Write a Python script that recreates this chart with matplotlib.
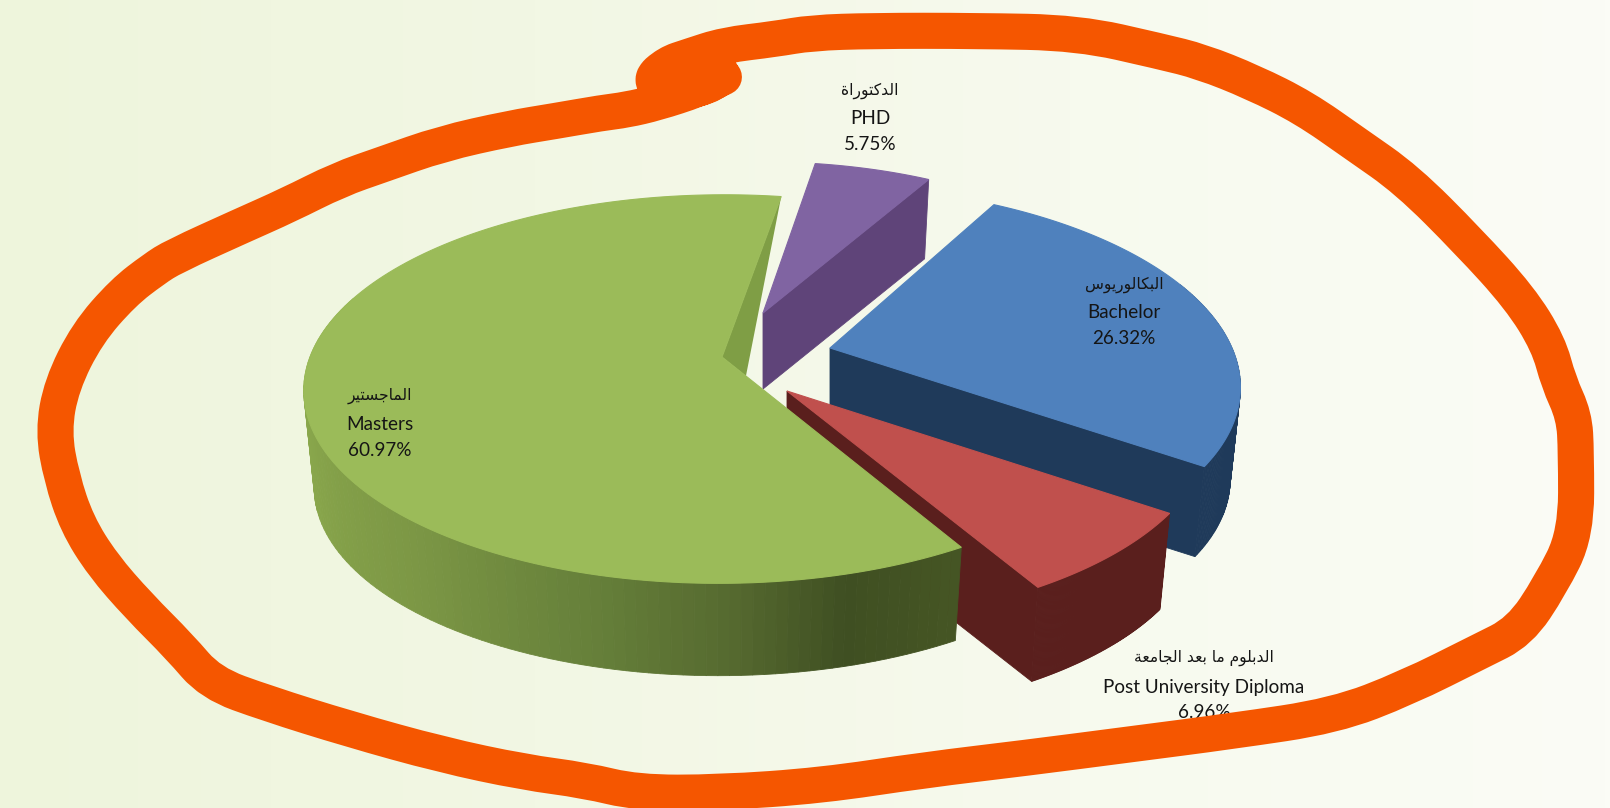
import numpy as np
import matplotlib
matplotlib.use('Agg')
import matplotlib.pyplot as plt
from matplotlib.path import Path
from matplotlib.patches import PathPatch, Polygon
from matplotlib.colors import LinearSegmentedColormap, to_rgb

# data, in pie order (counter clockwise from the notch)
names_en = ['Masters', 'Post University Diploma', 'Bachelor', 'PHD']
names_ar = ['الماجستير', 'الدبلوم ما بعد الجامعة', 'البكالوريوس', 'الدكتوراة']
percent = [60.97, 6.96, 26.32, 5.75]

top_colors = ['#9BBB59', '#C0504D', '#4F81BD', '#8064A2']
wall_colors = ['#6F8A3C', '#5A1F1D', '#1F3A5A', '#5F4479']

# layout in reference pixels
start_angle = 80.8
apex_x = [722, 787, 830, 763]
apex_y = [357, 391, 348, 313]
radius_x = [412, 418, 402, 380]
radius_y = [189, 195, 189, 176]
shear = [-3, 5, 15, 0]
depth = [98, 99, 93, 76]
label_x = [380, 1204, 1124, 870]
label_y = [(396, 424, 450), (658, 687, 713), (285, 312, 339), (91, 118, 145)]

# hand drawn ring at 1568 wide
ring_x = [705, 680, 640, 610, 586, 540, 497, 430, 373, 330, 280, 235, 169, 150, 120, 85, 60, 52, 60, 75,
          100, 135, 175, 205, 260, 340, 430, 510, 570, 620, 700, 800, 900, 1000, 1100, 1200, 1300, 1370,
          1440, 1480, 1510, 1535, 1535, 1533, 1518, 1508, 1480, 1430, 1370, 1320, 1270, 1220, 1170, 1130,
          1050, 950, 850, 790, 755, 705, 671, 650, 632, 650, 690, 708, 680, 650, 690]
ring_y = [75, 87, 100, 107, 110, 118, 125, 140, 160, 175, 200, 220, 250, 262, 285, 325, 375, 420, 465, 510,
          550, 590, 630, 665, 685, 710, 735, 752, 760, 772, 772, 765, 750, 738, 725, 712, 697, 670,
          635, 615, 570, 520, 440, 405, 372, 335, 290, 235, 175, 140, 105, 80, 60, 50,
          32, 30, 30, 32, 38, 44, 55, 62, 78, 92, 85, 70, 62, 75, 78]

# shading along the green outer wall: angle, colour
green_angles = [180, 205, 230, 255, 272, 285, 301]
green_shades = ['#90AE50', '#86A34A', '#7C9745', '#66803A', '#55692F', '#3F4F22', '#465624']

BOTTOM = 0.975
PERSP = 0.165


def project(theta, cx, cy, rx, ry, sh, scale=1.0, drop=0.0):
    t = np.radians(theta)
    w = 1 + PERSP * np.sin(t)
    return cx + scale * (rx * np.cos(t) - sh * np.sin(t)) / w, cy - scale * ry * np.sin(t) / w + drop


FORMS = {
    'ا': ('\ufe8d', '\ufe8e', None, None), 'د': ('\ufea9', '\ufeaa', None, None),
    'ر': ('\ufead', '\ufeae', None, None), 'و': ('\ufeed', '\ufeee', None, None),
    'ة': ('\ufe93', '\ufe94', None, None),
    'ل': ('\ufedd', '\ufede', '\ufedf', '\ufee0'), 'ك': ('\ufed9', '\ufeda', '\ufedb', '\ufedc'),
    'ت': ('\ufe95', '\ufe96', '\ufe97', '\ufe98'), 'ب': ('\ufe8f', '\ufe90', '\ufe91', '\ufe92'),
    'ي': ('\ufef1', '\ufef2', '\ufef3', '\ufef4'), 'س': ('\ufeb1', '\ufeb2', '\ufeb3', '\ufeb4'),
    'م': ('\ufee1', '\ufee2', '\ufee3', '\ufee4'), 'ج': ('\ufe9d', '\ufe9e', '\ufe9f', '\ufea0'),
    'ع': ('\ufec9', '\ufeca', '\ufecb', '\ufecc'),
}


def shape_arabic(text):
    # matplotlib has no shaping or bidi, so pick the joined forms and reverse
    out = []
    for i, c in enumerate(text):
        if c not in FORMS:
            out.append(c)
            continue
        prev = text[i - 1] if i > 0 else ' '
        nxt = text[i + 1] if i + 1 < len(text) else ' '
        join_prev = prev in FORMS and FORMS[prev][2] is not None
        join_next = nxt in FORMS and FORMS[c][2] is not None
        if join_prev and join_next:
            out.append(FORMS[c][3])
        elif join_prev:
            out.append(FORMS[c][1])
        elif join_next:
            out.append(FORMS[c][2])
        else:
            out.append(FORMS[c][0])
    return ''.join(reversed(out))


def wall_color(i, theta):
    if i != 0:
        return wall_colors[i]
    rgb = np.array([to_rgb(c) for c in green_shades])
    return tuple(np.interp(theta, green_angles, rgb[:, k]) for k in range(3))


fig = plt.figure(figsize=(16.1, 8.08), dpi=100)
ax = fig.add_axes([0, 0, 1, 1])

bg = LinearSegmentedColormap.from_list('bg', ['#EEF5DC', '#F2F7E4', '#F7FAEE', '#FBFCF6'])
ax.imshow(np.linspace(0, 1, 256).reshape(1, -1), cmap=bg, extent=(0, 1610, 808, 0), aspect='auto', zorder=0)

sweep = np.array(percent) * 3.6
starts = start_angle + np.concatenate([[0], np.cumsum(sweep)[:-1]])

# back to front
for i in [3, 2, 1, 0]:
    a0, a1 = starts[i], starts[i] + sweep[i]
    geo = (apex_x[i], apex_y[i], radius_x[i], radius_y[i], shear[i])
    z = 10 + (3 - i)
    th = np.linspace(a0, a1, 160)

    # outer wall as narrow strips so the green one can be shaded, back side is hidden
    for t0, t1 in zip(th[:-1], th[1:]):
        if np.sin(np.radians(t0)) > 0.35:
            continue
        p = [project(t0, *geo), project(t1, *geo),
             project(t1, *geo, BOTTOM, depth[i]), project(t0, *geo, BOTTOM, depth[i])]
        c = wall_color(i, (t0 + t1) / 2)
        ax.add_patch(Polygon(p, closed=True, fc=c, ec=c, lw=0.6, zorder=z))

    rim0 = project(a0, *geo)
    rim1 = project(a1, *geo)
    if i == 0:
        # the notch: only a thin sliver of the inner wall shows
        inner = (apex_x[i] + 0.1 * (rim1[0] - apex_x[i]), apex_y[i] + 0.1 * (rim1[1] - apex_y[i]))
        ax.add_patch(Polygon([(apex_x[i], apex_y[i]), rim0, inner], closed=True,
                             fc='#7F9E45', ec='none', zorder=z))
    else:
        low = project(a0, *geo, BOTTOM, depth[i])
        ax.add_patch(Polygon([(apex_x[i], apex_y[i]), rim0, low, (apex_x[i], apex_y[i] + depth[i])],
                             closed=True, fc=wall_colors[i], ec=wall_colors[i], lw=0.6, zorder=z))

    rx, ry = project(th, *geo)
    top = np.column_stack([np.r_[apex_x[i], rx], np.r_[apex_y[i], ry]])
    ax.add_patch(Polygon(top, closed=True, fc=top_colors[i], ec=top_colors[i], lw=0.8, zorder=z))

for i in range(4):
    y0, y1, y2 = label_y[i]
    ax.text(label_x[i], y0, shape_arabic(names_ar[i]), family='DejaVu Sans', fontsize=11.2, color='#151515',
            ha='center', va='center', zorder=30)
    ax.text(label_x[i], y1, names_en[i], family='Lato', fontsize=13.6, color='#151515',
            ha='center', va='center', zorder=30)
    ax.text(label_x[i], y2, f'{percent[i]:.2f}%', family='Lato', fontsize=13.6, color='#151515',
            ha='center', va='center', zorder=30)

# ring, smoothed by running quadratic curves through the midpoints
k = 1610 / 1568
pts = np.column_stack([ring_x, ring_y]) * k
mids = (pts[:-1] + pts[1:]) / 2
verts = [pts[0], mids[0]]
codes = [Path.MOVETO, Path.LINETO]
for n in range(1, len(mids)):
    verts += [pts[n], mids[n]]
    codes += [Path.CURVE3, Path.CURVE3]
verts.append(pts[-1])
codes.append(Path.LINETO)
ax.add_patch(PathPatch(Path(verts, codes), fc='none', ec='#F55600', lw=26, capstyle='round',
                       joinstyle='round', zorder=40))

ax.set_xlim(0, 1610)
ax.set_ylim(808, 0)
ax.axis('off')
fig.savefig('out.png', dpi=100)
